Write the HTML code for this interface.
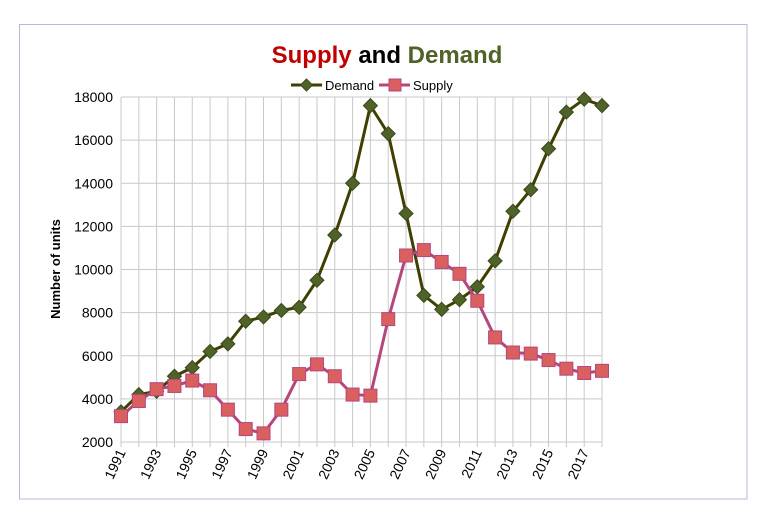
<!DOCTYPE html>
<html><head><meta charset="utf-8"><style>
body{margin:0;background:#fff;font-family:"Liberation Sans",Calibri,sans-serif}
svg text{font-family:"Liberation Sans",sans-serif}
</style></head><body>
<svg width="775" height="524" viewBox="0 0 775 524">
<rect x="19.5" y="24.5" width="727.5" height="474.5" fill="#fff" stroke="#b8b8d8"/>
<text x="387" y="63" text-anchor="middle" font-size="24" font-weight="bold"><tspan fill="#c00000">Supply</tspan><tspan fill="#000"> and </tspan><tspan fill="#4f6228">Demand</tspan></text>
<g>
<g><line x1="291" y1="85" x2="322" y2="85" stroke="#3f3f00" stroke-width="3"/><path d="M306.5 79 L312.5 85 L306.5 91 L300.5 85Z" fill="#4f6228" stroke="#3a4a1c"/><text x="325" y="90" font-size="13">Demand</text></g>
<g><line x1="379" y1="85" x2="410" y2="85" stroke="#b5467e" stroke-width="3"/><rect x="389" y="79" width="12" height="12" fill="#d9605e" stroke="#b5467e"/><text x="413" y="90" font-size="13">Supply</text></g>
</g>
<text transform="translate(60,269) rotate(-90)" text-anchor="middle" font-size="13" font-weight="bold">Number of units</text>
<g id="grid"></g><g id="axes"></g><g id="series"></g>
</svg>
<script>
const years=[1991,1992,1993,1994,1995,1996,1997,1998,1999,2000,2001,2002,2003,2004,2005,2006,2007,2008,2009,2010,2011,2012,2013,2014,2015,2016,2017,2018];
const demand=[3400,4200,4350,5050,5450,6200,6550,7600,7800,8100,8250,9500,11600,14000,17600,16300,12600,8800,8150,8600,9200,10400,12700,13700,15600,17300,17900,17600];
const supply=[3200,3900,4450,4600,4850,4400,3500,2600,2400,3500,5150,5600,5050,4200,4150,7700,10650,10900,10350,9800,8550,6850,6150,6100,5800,5400,5200,5300];
const yTicks=[2000,4000,6000,8000,10000,12000,14000,16000,18000];
const NS="http://www.w3.org/2000/svg";
const x0=121,x1=602,yTop=97,yBot=442;
function xs(i){return x0+(x1-x0)*i/(years.length-1);}
function ys(v){return yBot-(v-2000)/16000*(yBot-yTop);}
function mk(tag,at,parent){const e=document.createElementNS(NS,tag);for(const k in at)e.setAttribute(k,at[k]);parent.appendChild(e);return e;}
const grid=document.getElementById('grid'),axes=document.getElementById('axes'),ser=document.getElementById('series');
yTicks.forEach(v=>{
 const l=mk('line',{x1:x0,x2:x1,y1:ys(v),y2:ys(v),stroke:'#c8c8c8'},grid);
 
 
 const t=mk('text',{x:x0-8,y:ys(v)+5,'text-anchor':'end','font-size':'14'},axes);
 t.textContent=v;
 
 
});
years.forEach((yr,i)=>{
 const l=mk('line',{x1:xs(i),x2:xs(i),y1:yTop,y2:yBot+5,stroke:'#c8c8c8'},grid);
 
 
 if(i%2===0){
  const t=mk('text',{transform:`translate(${xs(i)+5},${yBot+10}) rotate(-65)`,'text-anchor':'end','font-size':'14'},axes);
  t.textContent=yr;
  
  
 }
});
function line(data,color,name){
 const p=mk('polyline',{points:data.map((v,i)=>xs(i)+','+ys(v)).join(' '),fill:'none',stroke:color,'stroke-width':3,'stroke-linejoin':'round'},ser);
 
 
}
line(demand,'#3f3f00','demand');
line(supply,'#b5467e','supply');
demand.forEach((v,i)=>{
 const x=xs(i),y=ys(v);
 const m=mk('path',{d:`M${x} ${y-7}L${x+7} ${y}L${x} ${y+7}L${x-7} ${y}Z`,fill:'#4f6228',stroke:'#3a4a1c'},ser);
 
 
});
supply.forEach((v,i)=>{
 const x=xs(i),y=ys(v);
 const m=mk('rect',{x:x-6.5,y:y-6.5,width:13,height:13,fill:'#d9605e',stroke:'#b5467e'},ser);
 
 
});
</script>
</body></html>
